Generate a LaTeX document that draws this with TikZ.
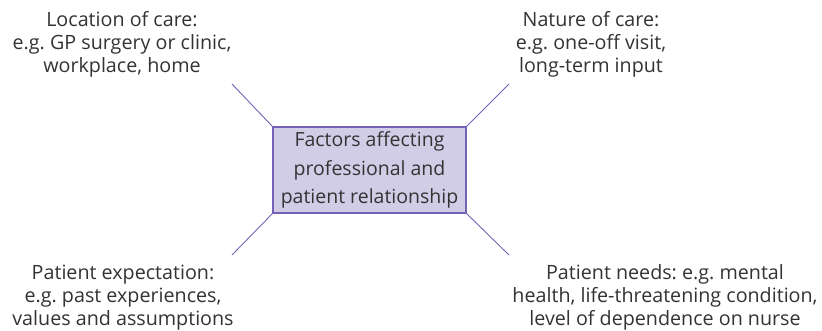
\documentclass[tikz,border=0pt]{standalone}
\usepackage{fontspec}
\setmainfont{Open Sans}
\frenchspacing
\usetikzlibrary{calc}
\definecolor{boxfill}{HTML}{D2CDE7}
\definecolor{boxline}{HTML}{7562B4}
\definecolor{txt}{HTML}{333333}
\tikzset{
  factor/.style={align=center, text=txt, font=\fontsize{19.7}{23}\selectfont, inner sep=0pt},
  hub/.style={draw=boxline, line width=1.3pt, fill=boxfill, minimum width=193pt, minimum height=86pt,
    align=center, text=txt, font=\fontsize{19.5}{28.5}\selectfont, inner sep=0pt},
  spoke/.style={draw=boxline, line width=0.9pt}
}

\begin{document}
\begin{tikzpicture}[x=1pt,y=-1pt]
				\useasboundingbox (0,0) rectangle (822,330);
				
				\node[hub] (hub) at (369.5,170) {Factors affecting\\professional and\\patient relationship};
				
				\node[factor] (loc) at (122,44) {Location of care:\\e.g. GP surgery or clinic,\\workplace, home};
				\node[factor] (nat) at (591,44) {Nature of care:\\e.g. one-off visit,\\long-term input};
				\node[factor] (exp) at (123,297.5) {Patient expectation:\\e.g. past experiences,\\values and assumptions};
				\node[factor] (need) at (665,297.5) {Patient needs: e.g. mental\\health, life-threatening condition,\\level of dependence on nurse};
				
				\coordinate (locend) at (232,84);
				\coordinate (natend) at (509,84);
				\coordinate (expend) at (232,255);
				\coordinate (needend) at (509,255);
				
				\draw[spoke] (hub.north west) -- (locend);
				\draw[spoke] (hub.north east) -- (natend);
				\draw[spoke] (hub.south west) -- (expend);
				\draw[spoke] (hub.south east) -- (needend);
			\end{tikzpicture}
\end{document}
